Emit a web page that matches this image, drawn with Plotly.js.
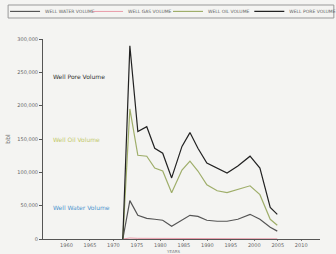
<!DOCTYPE html>
<html><head><meta charset="utf-8">
<script src="https://cdn.plot.ly/plotly-3.0.1.min.js"></script>
<style>html,body{margin:0;padding:0;background:#f4f4f2;}#c{width:336px;height:254px;}</style>
</head><body><div id="c"></div>
<script>
const years = [1972, 1973.5, 1975.2, 1977.1, 1978.8, 1980.5, 1982.4, 1984.6, 1986.3, 1988.0, 1989.9, 1992.1, 1994.2, 1996.5, 1999.1, 2001.2, 2003.4, 2004.9];
const porevol = [0, 289700, 161100, 168500, 136000, 128600, 91600, 138900, 159600, 136000, 113800, 106400, 99000, 109400, 124200, 106400, 47300, 37000];
const oilvol = [0, 195100, 125600, 124200, 106400, 102000, 69500, 103500, 116800, 102000, 81300, 72400, 69500, 73900, 79800, 66500, 29600, 20700];
const watervol = [0, 57600, 35500, 31000, 29600, 28100, 19200, 28100, 35500, 34000, 28100, 26600, 26600, 29600, 37000, 29600, 17700, 11800];
const gasvol = [0, 1500, 1000, 1000, 800, 800, 600, 800, 900, 800, 700, 600, 600, 700, 800, 700, 400, 300];
const seriesNames = ["WELL WATER VOLUME", "WELL GAS VOLUME", "WELL OIL VOLUME", "WELL PORE VOLUME"];
const yTicks = [0, 50000, 100000, 150000, 200000, 250000, 300000];
const yTickText = ["0", "50,000", "100,000", "150,000", "200,000", "250,000", "300,000"];
const xTicks = [1960, 1965, 1970, 1975, 1980, 1985, 1990, 1995, 2000, 2005, 2010];

const traces = [
  {x: years, y: watervol, name: seriesNames[0], legend: 'legend', mode: 'lines', line: {color: '#555555', width: 1.2}},
  {x: years, y: gasvol, name: seriesNames[1], legend: 'legend2', mode: 'lines', line: {color: '#e89aa8', width: 1}},
  {x: years, y: oilvol, name: seriesNames[2], legend: 'legend3', mode: 'lines', line: {color: '#9fae6a', width: 1.2}},
  {x: years, y: porevol, name: seriesNames[3], legend: 'legend4', mode: 'lines', line: {color: '#222222', width: 1.2}}
];
function leg(x) {
  return {orientation: 'h', xref: 'container', yref: 'container', x: x, y: 0.955, xanchor: 'left', yanchor: 'middle',
    borderwidth: 0, bgcolor: 'rgba(0,0,0,0)', font: {size: 4.5, color: '#666'}, itemwidth: 30};
}
const layout = {
  width: 336, height: 254,
  paper_bgcolor: '#f4f4f2', plot_bgcolor: '#f4f4f2',
  margin: {l: 43, r: 16, t: 39, b: 15},
  font: {family: 'DejaVu Sans', size: 5, color: '#555'},
  showlegend: true,
  legend: leg(0.015), legend2: leg(0.262), legend3: leg(0.5), legend4: leg(0.742),
  shapes: [
    {type: 'rect', xref: 'paper', yref: 'paper', x0: -0.126, x1: 1.05, y0: 1.105, y1: 1.17,
     line: {color: '#999', width: 1}, fillcolor: 'rgba(0,0,0,0)', layer: 'below'}
  ],
  xaxis: {range: [1955, 2014], tickvals: xTicks, showline: true, linecolor: '#555', linewidth: 1,
    ticks: 'outside', ticklen: 1, tickcolor: '#777', showgrid: false, zeroline: false,
    tickfont: {size: 5, color: '#666'}, automargin: false},
  yaxis: {range: [0, 300000], tickvals: yTicks, ticktext: yTickText, showline: true, linecolor: '#555', linewidth: 1,
    ticks: 'outside', ticklen: 3, tickcolor: '#555', showgrid: false, zeroline: false,
    tickfont: {size: 5, color: '#666'}, automargin: false,
    title: {text: 'bbl', font: {size: 6, color: '#555'}, standoff: 6}},
  annotations: [
    {xref: 'paper', yref: 'paper', x: 0.03, y: 0.84, xanchor: 'left', text: 'Well Pore Volume', showarrow: false, font: {size: 6, color: '#333'}},
    {xref: 'paper', yref: 'paper', x: 0.03, y: 0.50, xanchor: 'left', text: 'Well Oil Volume', showarrow: false, font: {size: 6, color: '#c3c96a'}},
    {xref: 'paper', yref: 'paper', x: 0.03, y: 0.13, xanchor: 'left', text: 'Well Water Volume', showarrow: false, font: {size: 6, color: '#4f95cf'}},
    {xref: 'paper', yref: 'paper', x: 0.47, y: -0.06, yanchor: 'middle', text: 'YEARS', showarrow: false, font: {size: 4, color: '#777'}}
  ]
};
Plotly.newPlot('c', traces, layout, {displayModeBar: false, staticPlot: true});
</script></body></html>
